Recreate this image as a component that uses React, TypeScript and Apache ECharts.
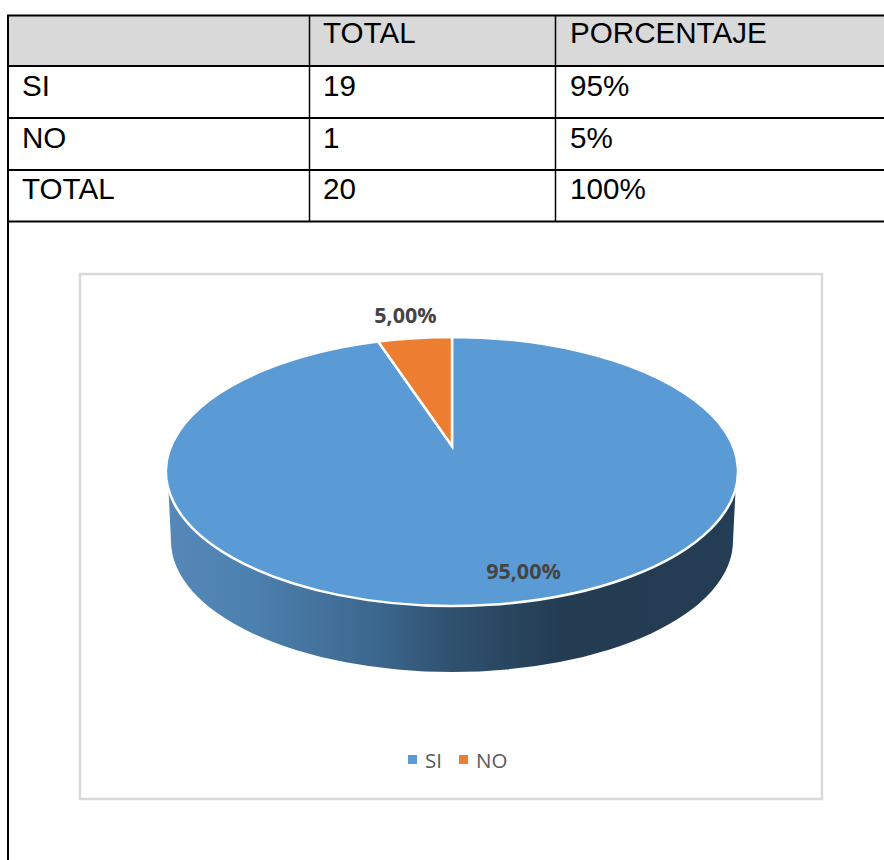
import React, { useEffect, useRef } from "react";
import * as echarts from "echarts";

const categories = ["SI", "NO"];
const counts = [19, 1];
const tableHeader = ["", "TOTAL", "PORCENTAJE"];
const tableRows = [
  ["SI", "19", "95%"],
  ["NO", "1", "5%"],
  ["TOTAL", "20", "100%"],
];
const sliceColors = ["#5b9bd5", "#ed7d31"];

// layout
const FONT_TABLE = '"Liberation Sans", Arial, sans-serif';
const FONT_CHART = '"Open Sans", sans-serif';
const colX = [8, 309, 555];
const rowY = [15.5, 66, 118, 170, 221.5];
const textX = [22, 323, 570];
const apex = { x: 452, y: 446 };
const top = { cx: 452, cy: 471.5, rx: 286, ry: 134.5 };
const bottom = { cx: 452, cy: 541, rx: 281, ry: 131 };
const squash = 0.46;
const labelPos = [
  { x: 523.5, y: 570.5 },
  { x: 405.5, y: 314 },
];

// Where a ray from the apex, at a clockwise angle from 12 o'clock, meets the rim.
function rimPoint(angle: number) {
  const dx = Math.sin(angle);
  const dy = -Math.cos(angle) * squash;
  const ox = apex.x - top.cx;
  const oy = apex.y - top.cy;
  const a = (dx * dx) / (top.rx * top.rx) + (dy * dy) / (top.ry * top.ry);
  const b = 2 * ((ox * dx) / (top.rx * top.rx) + (oy * dy) / (top.ry * top.ry));
  const c = (ox * ox) / (top.rx * top.rx) + (oy * oy) / (top.ry * top.ry) - 1;
  const t = (-b + Math.sqrt(b * b - 4 * a * c)) / (2 * a);
  return { x: apex.x + dx * t, y: apex.y + dy * t };
}

function slicePath(index: number) {
  const total = counts.reduce((s, v) => s + v, 0);
  const before = counts.slice(0, index).reduce((s, v) => s + v, 0);
  const a0 = (before / total) * Math.PI * 2;
  const a1 = ((before + counts[index]) / total) * Math.PI * 2;
  const p0 = rimPoint(a0);
  const p1 = rimPoint(a1);
  const large = a1 - a0 > Math.PI ? 1 : 0;
  return `M${apex.x} ${apex.y}L${p0.x} ${p0.y}A${top.rx} ${top.ry} 0 ${large} 1 ${p1.x} ${p1.y}Z`;
}

const sidePath =
  `M168.5 480L168.5 491L${bottom.cx - bottom.rx} ${bottom.cy}` +
  `A${bottom.rx} ${bottom.ry} 0 0 0 ${bottom.cx + bottom.rx} ${bottom.cy}` +
  `L735.5 491L735.5 480Z`;

function percentLabel(index: number) {
  const total = counts.reduce((s, v) => s + v, 0);
  return ((counts[index] / total) * 100).toFixed(2).replace(".", ",") + "%";
}

function renderSlice(index: number) {
  return () => {
    const children: any[] = [];
    if (index === 0) {
      children.push({
        type: "path",
        shape: { pathData: sidePath },
        style: {
          fill: new echarts.graphic.LinearGradient(0, 0, 1, 0, [
            { offset: 0, color: "#5588b9" },
            { offset: 0.15, color: "#4c80ae" },
            { offset: 0.38, color: "#3b658c" },
            { offset: 0.5, color: "#30516f" },
            { offset: 0.69, color: "#233c52" },
            { offset: 1, color: "#233d54" },
          ]),
        },
      });
    }
    children.push({
      type: "path",
      shape: { pathData: slicePath(index) },
      style: { fill: sliceColors[index], stroke: "#ffffff", lineWidth: 2.5 },
    });
    children.push({
      type: "text",
      z2: 10,
      style: {
        x: labelPos[index].x,
        y: labelPos[index].y,
        text: percentLabel(index),
        fill: "#444444",
        font: `bold 21.5px ${FONT_CHART}`,
        align: "center",
        verticalAlign: "middle",
      },
    });
    return { type: "group", children };
  };
}

function tableGraphics() {
  const els: any[] = [];
  els.push({
    type: "rect",
    shape: { x: colX[0], y: rowY[0], width: 884 - colX[0], height: rowY[1] - rowY[0] },
    style: { fill: "#d9d9d9" },
  });
  rowY.forEach((y) => {
    els.push({
      type: "line",
      shape: { x1: 7, y1: y, x2: 884, y2: y },
      style: { stroke: "#000000", lineWidth: 2 },
    });
  });
  els.push({
    type: "line",
    shape: { x1: colX[0], y1: rowY[0], x2: colX[0], y2: 860 },
    style: { stroke: "#000000", lineWidth: 2 },
  });
  colX.slice(1).forEach((x) => {
    els.push({
      type: "line",
      shape: { x1: x + 0.5, y1: rowY[0], x2: x + 0.5, y2: rowY[4] },
      style: { stroke: "#000000", lineWidth: 1.5 },
    });
  });
  [tableHeader, ...tableRows].forEach((row, r) => {
    row.forEach((cell, c) => {
      if (!cell) return;
      els.push({
        type: "text",
        style: {
          x: textX[c],
          y: [32, 85, 137, 188][r],
          text: cell,
          fill: "#000000",
          font: `29.6px ${FONT_TABLE}`,
          align: "left",
          verticalAlign: "middle",
        },
      });
    });
  });
  els.push({
    type: "rect",
    shape: { x: 80, y: 274, width: 742, height: 525 },
    style: { fill: "#ffffff", stroke: "#d9d9d9", lineWidth: 2.4 },
  });
  return els;
}

export default function App() {
  const ref = useRef<HTMLDivElement>(null);
  useEffect(() => {
    const chart = echarts.init(ref.current!, undefined, { renderer: "svg" });
    chart.setOption({
      animation: false,
      backgroundColor: "#ffffff",
      color: sliceColors,
      graphic: { elements: tableGraphics() },
      legend: {
        data: categories,
        left: 408,
        top: 749,
        padding: 0,
        icon: "rect",
        itemWidth: 9,
        itemHeight: 9,
        itemGap: 17,
        selectedMode: false,
        textStyle: {
          color: "#595959",
          fontFamily: FONT_CHART,
          fontSize: 20.5,
          padding: [0, 0, 0, 3],
        },
      },
      series: categories.map((name, i) => ({
        type: "custom",
        name,
        coordinateSystem: "none",
        data: [[counts[i]]],
        z: 2 + i,
        silent: true,
        renderItem: renderSlice(i),
      })),
    });
    return () => chart.dispose();
  }, []);
  return <div ref={ref} style={{ position: "fixed", left: 0, top: 0, width: 884, height: 860 }} />;
}
